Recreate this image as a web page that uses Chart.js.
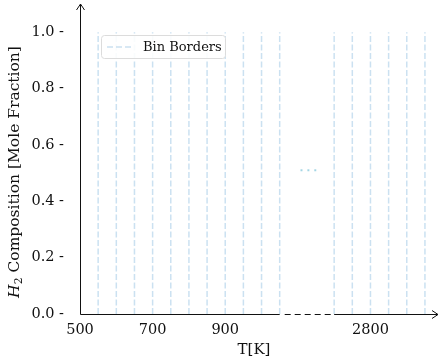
<!DOCTYPE html>
<html>
<head>
<meta charset="utf-8">
<script src="https://cdn.jsdelivr.net/npm/chart.js@4"></script>
<style>
  html, body { margin: 0; padding: 0; background: #fff; }
  #wrap { width: 442px; height: 362px; }
</style>
</head>
<body>
<div id="wrap"><canvas id="chart" width="442" height="362"></canvas></div>
<script>
// ---- data ----
const binBordersLow = [550, 600, 650, 700, 750, 800, 850, 900, 950, 1000, 1050];
const binBordersHigh = [2700, 2750, 2800, 2850, 2900, 2950];
const xTickValues = [500, 700, 900, 2800];
const yTickValues = [0.0, 0.2, 0.4, 0.6, 0.8, 1.0];
const gapDotsX = [1110, 1129, 1148];   // axis units inside the break
const gapDotsY = [0.51, 0.51, 0.51];

// broken axis: 1050 .. 2700 squeezed into 150 axis units
const breakLow = 1050;
const breakHigh = 2700;
const breakWidth = 150;

function toAxis(t) {
  return t > breakLow ? t - breakHigh + breakLow + breakWidth : t;
}
function fromAxis(v) {
  return v > breakLow + breakWidth ? v + breakHigh - breakLow - breakWidth : v;
}

const serif = "'DejaVu Serif', serif";
const lineColor = "rgba(160,200,230,0.55)";

// ---- datasets ----
const borders = binBordersLow.concat(binBordersHigh);
const datasets = borders.map(function (t, i) {
  return {
    type: "line",
    label: i === 0 ? "Bin Borders" : "",
    data: [{ x: toAxis(t), y: 0 }, { x: toAxis(t), y: 1 }],
    borderColor: lineColor,
    borderWidth: 1.5,
    borderDash: [6, 2.5],
    pointRadius: 0
  };
});

datasets.push({
  type: "scatter",
  label: "",
  data: gapDotsX.map(function (x, i) { return { x: x, y: gapDotsY[i] }; }),
  pointStyle: "rect",
  pointRadius: 1.4,
  backgroundColor: "#a3d5e4",
  borderWidth: 0
});

// ---- axes, arrows, legend, y title ----
const decorPlugin = {
  id: "decor",
  afterDatasetsDraw(chart) {
    const ctx = chart.ctx;
    const x = chart.scales.x;
    const area = chart.chartArea;
    const x0 = Math.round(area.left) + 0.5;
    const yb = Math.round(area.bottom) + 0.5;

    ctx.save();
    ctx.strokeStyle = "#111";
    ctx.lineWidth = 1;

    // y axis with arrow
    ctx.beginPath();
    ctx.moveTo(x0, yb);
    ctx.lineTo(x0, area.top);
    ctx.moveTo(x0 - 4, area.top + 6);
    ctx.lineTo(x0, area.top);
    ctx.lineTo(x0 + 4, area.top + 6);
    ctx.stroke();

    // x axis: solid, dashed break, solid with arrow
    const pLow = x.getPixelForValue(breakLow);
    const pHigh = x.getPixelForValue(breakLow + breakWidth);
    ctx.beginPath();
    ctx.moveTo(x0, yb);
    ctx.lineTo(pLow, yb);
    ctx.moveTo(pHigh, yb);
    ctx.lineTo(area.right, yb);
    ctx.moveTo(area.right - 6, yb - 4);
    ctx.lineTo(area.right, yb);
    ctx.lineTo(area.right - 6, yb + 4);
    ctx.stroke();

    ctx.setLineDash([6, 4]);
    ctx.beginPath();
    ctx.moveTo(pLow + 5, yb);
    ctx.lineTo(pHigh, yb);
    ctx.stroke();
    ctx.setLineDash([]);

    // legend
    const lx = 101.5, ly = 35.5, lw = 124, lh = 23;
    ctx.fillStyle = "rgba(255,255,255,0.9)";
    ctx.strokeStyle = "#dcdcdc";
    ctx.beginPath();
    ctx.roundRect(lx, ly, lw, lh, 3);
    ctx.fill();
    ctx.stroke();

    ctx.strokeStyle = lineColor;
    ctx.lineWidth = 1.5;
    ctx.setLineDash([6, 3]);
    ctx.beginPath();
    ctx.moveTo(107, ly + lh / 2);
    ctx.lineTo(131, ly + lh / 2);
    ctx.stroke();
    ctx.setLineDash([]);

    ctx.fillStyle = "#111";
    ctx.font = "13px " + serif;
    ctx.textAlign = "left";
    ctx.textBaseline = "middle";
    ctx.fillText("Bin Borders", 143, ly + lh / 2 + 0.5);

    // x title
    ctx.font = "15px " + serif;
    ctx.textAlign = "center";
    ctx.textBaseline = "alphabetic";
    ctx.fillText("T[K]", 254, 354);

    // y title: italic H with subscript 2
    const rest = " Composition [Mole Fraction]";
    const fs = 15.5;
    ctx.translate(19, 172);
    ctx.rotate(-Math.PI / 2);
    ctx.font = "italic " + fs + "px " + serif;
    const wH = ctx.measureText("H").width;
    ctx.font = (fs * 0.7) + "px " + serif;
    const w2 = ctx.measureText("2").width;
    ctx.font = fs + "px " + serif;
    const wR = ctx.measureText(rest).width;
    let cx = -(wH + w2 + wR) / 2;
    ctx.textAlign = "left";
    ctx.font = "italic " + fs + "px " + serif;
    ctx.fillText("H", cx, 0);
    cx += wH;
    ctx.font = (fs * 0.7) + "px " + serif;
    ctx.fillText("2", cx, 3);
    cx += w2;
    ctx.font = fs + "px " + serif;
    ctx.fillText(rest, cx, 0);

    ctx.restore();
  }
};

new Chart(document.getElementById("chart"), {
  type: "line",
  data: { datasets: datasets },
  options: {
    responsive: false,
    animation: false,
    layout: { padding: { top: 4, right: 1, left: 0, bottom: 0 } },
    plugins: {
      legend: { display: false },
      tooltip: { enabled: false }
    },
    scales: {
      x: {
        type: "linear",
        min: 500,
        max: 1486,
        grid: { display: false },
        border: { display: false },
        afterBuildTicks: function (scale) {
          scale.ticks = xTickValues.map(function (t) { return { value: toAxis(t) }; });
        },
        afterFit: function (scale) {
          scale.height = 48;
          scale.paddingLeft = 0;
          scale.paddingRight = 0;
        },
        ticks: {
          autoSkip: false,
          maxRotation: 0,
          padding: 0,
          color: "#111",
          font: { family: serif, size: 14.5 },
          callback: function (v) { return String(fromAxis(v)); }
        }
      },
      y: {
        min: 0,
        max: 1.1,
        grid: { display: false },
        border: { display: false },
        afterBuildTicks: function (scale) {
          scale.ticks = yTickValues.map(function (v) { return { value: v }; });
        },
        afterFit: function (scale) {
          scale.width = 80;
          scale.paddingTop = 0;
          scale.paddingBottom = 0;
        },
        ticks: {
          padding: 8,
          color: "#111",
          font: { family: serif, size: 14.5 },
          callback: function (v) { return v.toFixed(1) + " -"; }
        }
      }
    }
  },
  plugins: [decorPlugin]
});
</script>
</body>
</html>
